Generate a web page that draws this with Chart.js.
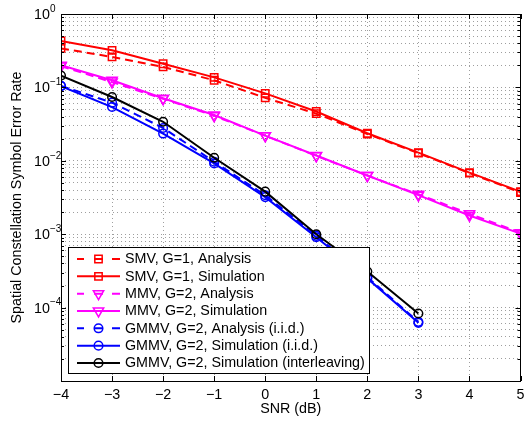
<!DOCTYPE html>
<html>
<head>
<meta charset="utf-8">
<script src="https://cdn.jsdelivr.net/npm/chart.js@4.4.1/dist/chart.umd.min.js"></script>
<style>
  html, body { margin: 0; padding: 0; background: #fff; }
  #wrap { width: 528px; height: 423px; }
</style>
</head>
<body>
<div id="wrap"><canvas id="serChart" width="528" height="423"></canvas></div>
<script>
// SNR points (dB)
const snr = [-4, -3, -2, -1, 0, 1, 2, 3, 4, 5];

// symbol error rate
const smvAnalysis = [0.34, 0.26, 0.19, 0.125, 0.072, 0.044, 0.0232, 0.0127, 0.0068, 0.0037];
const smvSim = [0.43, 0.32, 0.21, 0.137, 0.083, 0.047, 0.0237, 0.0129, 0.0069, 0.0038];
const mmvAnalysis = [0.195, 0.118, 0.07, 0.041, 0.022, 0.0117, 0.0063, 0.0035, 0.0019, 0.00105];
const mmvSim = [0.2, 0.125, 0.071, 0.042, 0.022, 0.0118, 0.0063, 0.0034, 0.0018, 0.00102];
const gmmvAnalysis = [0.105, 0.062, 0.028, 0.0097, 0.0034, 0.00095, 0.00026, 0.000064];
const gmmvSim = [0.104, 0.054, 0.0235, 0.0092, 0.0032, 0.00091, 0.00025, 0.000062];
const gmmvInterleave = [0.145, 0.074, 0.034, 0.011, 0.0038, 0.001, 0.00031, 0.000083];

const seriesLabels = [
  'SMV, G=1, Analysis',
  'SMV, G=1, Simulation',
  'MMV, G=2, Analysis',
  'MMV, G=2, Simulation',
  'GMMV, G=2, Analysis (i.i.d.)',
  'GMMV, G=2, Simulation (i.i.d.)',
  'GMMV, G=2, Simulation (interleaving)'
];

const xTicks = [-4, -3, -2, -1, 0, 1, 2, 3, 4, 5];
const yDecades = [-5, -4, -3, -2, -1, 0];
const yLabelExps = [0, -1, -2, -3, -4];

const FONT = '"Liberation Sans", Arial, sans-serif';
const FS = 14.3;
Chart.defaults.font.family = FONT;
Chart.defaults.color = '#000';

const SQUARE = { style: 'rect', radius: 5.2, rotation: 0 };
const TRI_DOWN = { style: 'triangle', radius: 6, rotation: 180 };
const CIRCLE = { style: 'circle', radius: 4.3, rotation: 0 };

function series(idx, values, color, dashed, marker) {
  return {
    label: seriesLabels[idx],
    data: values.map((v, i) => ({ x: snr[i], y: v })),
    borderColor: color,
    backgroundColor: 'rgba(0,0,0,0)',
    borderWidth: 2,
    borderDash: dashed ? [8, 5] : [],
    pointStyle: marker.style,
    pointRadius: marker.radius,
    pointHoverRadius: marker.radius,
    pointRotation: marker.rotation,
    pointBorderColor: color,
    pointBackgroundColor: 'rgba(0,0,0,0)',
    pointBorderWidth: 1.5,
    tension: 0,
    fill: false,
    order: 10 - idx
  };
}

const datasets = [
  series(0, smvAnalysis, '#ff0000', true, SQUARE),
  series(1, smvSim, '#ff0000', false, SQUARE),
  series(2, mmvAnalysis, '#ff00ff', true, TRI_DOWN),
  series(3, mmvSim, '#ff00ff', false, TRI_DOWN),
  series(4, gmmvAnalysis, '#0000ff', true, CIRCLE),
  series(5, gmmvSim, '#0000ff', false, CIRCLE),
  series(6, gmmvInterleave, '#000000', false, CIRCLE)
];

const gridStyle = {
  color: 'rgba(0,0,0,0.38)',
  lineWidth: 1,
  drawTicks: false
};

// box, inward ticks, 10^n labels and the legend, matlab style
const matlabAxes = {
  id: 'matlabAxes',
  afterDraw(chart) {
    const ctx = chart.ctx;
    const a = chart.chartArea;
    const xs = chart.scales.x;
    const ys = chart.scales.y;
    ctx.save();

    ctx.strokeStyle = '#000';
    ctx.lineWidth = 1;
    ctx.setLineDash([]);
    ctx.strokeRect(Math.round(a.left) + 0.5, Math.round(a.top) + 0.5,
      Math.round(a.right - a.left) - 1, Math.round(a.bottom - a.top));

    ctx.beginPath();
    xTicks.forEach(v => {
      const px = Math.round(xs.getPixelForValue(v)) + 0.5;
      ctx.moveTo(px, a.bottom); ctx.lineTo(px, a.bottom - 5);
      ctx.moveTo(px, a.top); ctx.lineTo(px, a.top + 5);
    });
    ys.ticks.forEach(t => {
      const py = Math.round(ys.getPixelForValue(t.value)) + 0.5;
      const major = Math.abs(Math.log10(t.value) - Math.round(Math.log10(t.value))) < 1e-9;
      const len = major ? 5 : 3;
      ctx.moveTo(a.left, py); ctx.lineTo(a.left + len, py);
      ctx.moveTo(a.right, py); ctx.lineTo(a.right - len, py);
    });
    ctx.stroke();

    // y tick labels with superscript exponent
    ctx.fillStyle = '#000';
    yLabelExps.forEach(e => {
      const py = ys.getPixelForValue(Math.pow(10, e));
      ctx.font = FS + 'px ' + FONT;
      ctx.textAlign = 'right';
      ctx.textBaseline = 'middle';
      ctx.fillText('10', 50, py + 1);
      ctx.font = '10px ' + FONT;
      ctx.textAlign = 'left';
      ctx.fillText(e < 0 ? '\u2212' + Math.abs(e) : String(e), 50, py - 5);
    });

    // legend
    const box = { x: 68.5, y: 247.5, w: 301, h: 126 };
    ctx.fillStyle = '#fff';
    ctx.fillRect(box.x, box.y, box.w, box.h);
    ctx.strokeStyle = '#000';
    ctx.lineWidth = 1;
    ctx.strokeRect(box.x, box.y, box.w, box.h);

    chart.data.datasets.forEach((ds, i) => {
      const ry = 259 + i * 17.33;
      ctx.strokeStyle = ds.borderColor;
      ctx.lineWidth = ds.borderWidth;
      ctx.setLineDash([]);
      ctx.beginPath();
      if (ds.borderDash.length) {
        [[77, 84], [94, 103], [112, 120]].forEach(s => { ctx.moveTo(s[0], ry); ctx.lineTo(s[1], ry); });
      } else {
        ctx.moveTo(77, ry);
        ctx.lineTo(120, ry);
      }
      ctx.stroke();
      ctx.lineWidth = ds.pointBorderWidth;
      ctx.fillStyle = 'rgba(0,0,0,0)';
      Chart.helpers.drawPoint(ctx, {
        pointStyle: ds.pointStyle,
        rotation: ds.pointRotation,
        radius: ds.pointRadius,
        borderWidth: ds.pointBorderWidth
      }, 98.5, ry);
      ctx.fillStyle = '#000';
      ctx.font = FS + 'px ' + FONT;
      ctx.textAlign = 'left';
      ctx.textBaseline = 'middle';
      ctx.fillText(ds.label, 125, ry + 0.5);
    });

    ctx.restore();
  }
};

new Chart(document.getElementById('serChart').getContext('2d'), {
  type: 'line',
  data: { datasets: datasets },
  options: {
    responsive: false,
    animation: false,
    layout: { padding: { left: 0, right: 1, top: 14, bottom: 0 } },
    plugins: {
      legend: { display: false },
      tooltip: { enabled: false }
    },
    scales: {
      x: {
        type: 'linear',
        min: -4,
        max: 5,
        ticks: {
          stepSize: 1,
          padding: 5,
          font: { size: FS },
          color: '#000',
          maxRotation: 0,
          callback: v => (v < 0 ? '\u2212' + Math.abs(v) : String(v))
        },
        grid: Object.assign({}, gridStyle),
        border: { display: false, dash: [1, 3] },
        title: { display: true, text: 'SNR (dB)', font: { size: FS }, color: '#000', padding: { top: 0, bottom: 5 } },
        afterFit: scale => { scale.height = 42; scale.paddingLeft = 0; scale.paddingRight = 0; }
      },
      y: {
        type: 'logarithmic',
        min: 1e-5,
        max: 1,
        ticks: { display: false },
        grid: Object.assign({}, gridStyle),
        border: { display: false, dash: [1, 3] },
        title: {
          display: true,
          text: 'Spatial Constellation Symbol Error Rate',
          font: { size: FS },
          color: '#000',
          padding: { top: 8, bottom: 0 }
        },
        afterBuildTicks: scale => {
          const ticks = [];
          yDecades.forEach(e => {
            if (e === 0) { ticks.push({ value: 1 }); return; }
            for (let m = 1; m <= 9; m++) ticks.push({ value: m * Math.pow(10, e) });
          });
          scale.ticks = ticks;
        },
        afterFit: scale => { scale.width = 61; scale.paddingTop = 0; scale.paddingBottom = 0; }
      }
    }
  },
  plugins: [matlabAxes]
});
</script>
</body>
</html>
